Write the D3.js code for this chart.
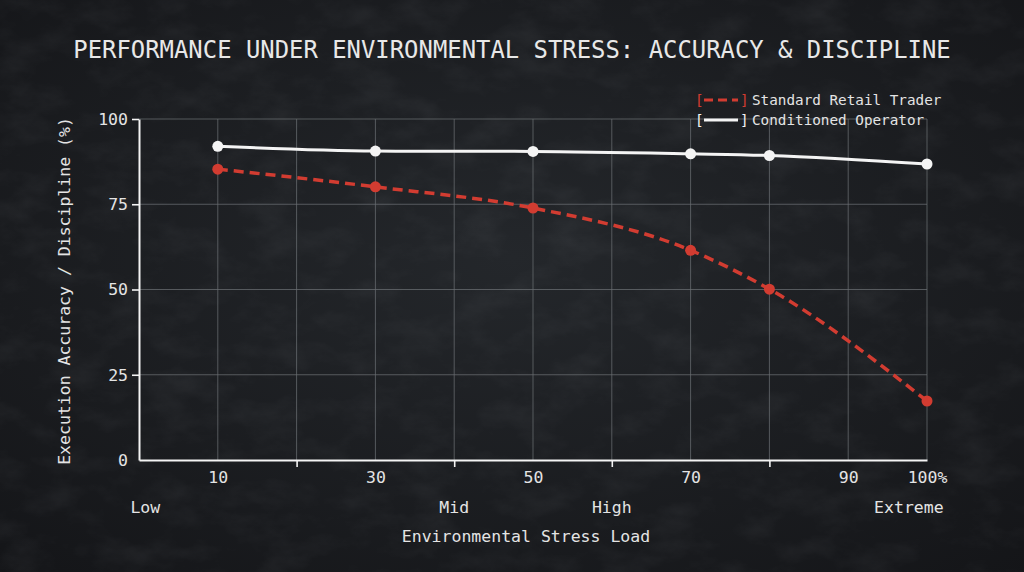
<!DOCTYPE html>
<html>
<head>
<meta charset="utf-8">
<script src="https://cdn.jsdelivr.net/npm/d3@7"></script>
<style>
  html, body { margin: 0; padding: 0; background: #1c1e22; }
  svg { display: block; }
</style>
</head>
<body>
<div id="chart"></div>
<script>
// Data
const stress = [10, 30, 50, 70, 80, 100];
const retailTrader = [85.3, 80.1, 73.9, 61.5, 50.1, 17.3];
const conditionedOperator = [92.0, 90.6, 90.5, 89.8, 89.3, 86.8];
const xLabelTicks = [10, 30, 50, 70, 90, 100];
const xMarkTicks = [20, 40, 60, 80];
const xGrid = [10, 20, 30, 40, 50, 60, 70, 80, 90, 100];
const yTicks = [0, 25, 50, 75, 100];
const zoneNames = ["Low", "Mid", "High", "Extreme"];
const zoneAt = [0.8, 40, 60, 97.7];

const width = 1024;
const height = 572;
const margin = { top: 119, right: 97, bottom: 112, left: 139 };
const font = "'DejaVu Sans Mono', 'Liberation Mono', monospace";
const red = "#d23c31";
const white = "#f4f4f4";
const textColor = "#e4e4e4";

const svg = d3.select("#chart")
    .append("svg")
    .attr("width", width)
    .attr("height", height);

// Background: dark slate with a little texture
const defs = svg.append("defs");
const vignette = defs.append("radialGradient").attr("id", "vig")
    .attr("cx", "50%").attr("cy", "45%").attr("r", "75%");
vignette.append("stop").attr("offset", "0%").attr("stop-color", "#24272b");
vignette.append("stop").attr("offset", "100%").attr("stop-color", "#141518");

const grain = defs.append("filter").attr("id", "grain")
    .attr("x", 0).attr("y", 0).attr("width", "100%").attr("height", "100%");
grain.append("feTurbulence").attr("type", "fractalNoise")
    .attr("baseFrequency", "0.02 0.035").attr("numOctaves", 5).attr("seed", 7);
grain.append("feColorMatrix").attr("type", "matrix")
    .attr("values", "0 0 0 0 0.45  0 0 0 0 0.47  0 0 0 0 0.5  1.4 0 0 0 -0.6");

svg.append("rect").attr("width", width).attr("height", height).attr("fill", "url(#vig)");
svg.append("rect").attr("width", width).attr("height", height)
    .attr("filter", "url(#grain)").attr("opacity", 0.1);

// Scales
const x = d3.scaleLinear()
    .domain([0, 100])
    .range([margin.left, width - margin.right]);

const y = d3.scaleLinear()
    .domain([0, 100])
    .range([height - margin.bottom, margin.top]);

// Gridlines
svg.append("g")
    .selectAll("line.vg")
    .data(xGrid)
    .join("line")
    .attr("x1", d => x(d)).attr("x2", d => x(d))
    .attr("y1", y(0)).attr("y2", y(100))
    .attr("stroke", "#6a6d72").attr("stroke-opacity", 0.75).attr("stroke-width", 1);

svg.append("g")
    .selectAll("line.hg")
    .data(yTicks.filter(d => d > 0))
    .join("line")
    .attr("x1", x(0)).attr("x2", x(100))
    .attr("y1", d => y(d)).attr("y2", d => y(d))
    .attr("stroke", "#6a6d72").attr("stroke-opacity", 0.75).attr("stroke-width", 1);

// Axes
const yAxis = svg.append("g")
    .attr("transform", `translate(${margin.left}, 0)`)
    .call(d3.axisLeft(y).tickValues(yTicks).tickSize(7).tickSizeOuter(0).tickPadding(4));

const xAxis = svg.append("g")
    .attr("transform", `translate(0, ${height - margin.bottom})`)
    .call(d3.axisBottom(x).tickValues(xMarkTicks).tickSize(7).tickSizeOuter(0).tickFormat(""));

const xLabels = svg.append("g")
    .attr("transform", `translate(0, ${height - margin.bottom})`)
    .call(d3.axisBottom(x).tickValues(xLabelTicks).tickSize(0).tickPadding(11)
        .tickFormat(d => d === 100 ? "100%" : d));
xLabels.select(".domain").remove();

[yAxis, xAxis].forEach(g => {
    g.select(".domain").attr("stroke", white).attr("stroke-width", 2);
    g.selectAll(".tick line").attr("stroke", white).attr("stroke-width", 1.6);
});
[yAxis, xLabels].forEach(g => {
    g.selectAll(".tick text")
        .attr("fill", textColor)
        .style("font-family", font)
        .style("font-size", "16.5px");
});
yAxis.selectAll(".tick").filter(d => d === 0).select("line").remove();

// Stress zone labels
svg.append("g")
    .selectAll("text")
    .data(zoneNames)
    .join("text")
    .attr("x", (d, i) => x(zoneAt[i]))
    .attr("y", 513)
    .attr("text-anchor", "middle")
    .attr("fill", textColor)
    .style("font-family", font)
    .style("font-size", "16.5px")
    .text(d => d);

// Axis titles
svg.append("text")
    .attr("x", 526)
    .attr("y", 542)
    .attr("text-anchor", "middle")
    .attr("fill", textColor)
    .style("font-family", font)
    .style("font-size", "16.5px")
    .text("Environmental Stress Load");

svg.append("text")
    .attr("transform", "rotate(-90)")
    .attr("x", -291)
    .attr("y", 70)
    .attr("text-anchor", "middle")
    .attr("fill", textColor)
    .style("font-family", font)
    .style("font-size", "16.5px")
    .text("Execution Accuracy / Discipline (%)");

// Title
svg.append("text")
    .attr("x", 512)
    .attr("y", 58)
    .attr("text-anchor", "middle")
    .attr("fill", "#e8e8e8")
    .style("font-family", font)
    .style("font-size", "23.9px")
    .text("PERFORMANCE UNDER ENVIRONMENTAL STRESS: ACCURACY & DISCIPLINE");

// Lines
const line = d3.line()
    .x((d, i) => x(stress[i]))
    .y(d => y(d))
    .curve(d3.curveMonotoneX);

svg.append("path")
    .datum(conditionedOperator)
    .attr("fill", "none")
    .attr("stroke", white)
    .attr("stroke-width", 3)
    .attr("d", line);

svg.append("path")
    .datum(retailTrader)
    .attr("fill", "none")
    .attr("stroke", red)
    .attr("stroke-width", 3.5)
    .attr("stroke-dasharray", "10 6")
    .attr("d", line);

svg.append("g")
    .selectAll("circle")
    .data(conditionedOperator)
    .join("circle")
    .attr("cx", (d, i) => x(stress[i]))
    .attr("cy", d => y(d))
    .attr("r", 5.5)
    .attr("fill", white);

svg.append("g")
    .selectAll("circle")
    .data(retailTrader)
    .join("circle")
    .attr("cx", (d, i) => x(stress[i]))
    .attr("cy", d => y(d))
    .attr("r", 5.5)
    .attr("fill", red);

// Legend
const legendItems = [
    { name: "Standard Retail Trader", color: red, dash: "9 5" },
    { name: "Conditioned Operator", color: white, dash: null }
];
const legend = svg.append("g").attr("transform", "translate(695, 100)");
legendItems.forEach((item, i) => {
    const row = legend.append("g").attr("transform", `translate(0, ${i * 20})`);
    row.append("text").attr("x", 0).attr("y", 5)
        .attr("fill", item.color)
        .style("font-family", font).style("font-size", "14.3px")
        .text("[");
    row.append("line")
        .attr("x1", 9).attr("x2", 43).attr("y1", 0).attr("y2", 0)
        .attr("stroke", item.color).attr("stroke-width", 3)
        .attr("stroke-dasharray", item.dash);
    row.append("text").attr("x", 45).attr("y", 5)
        .attr("fill", item.color)
        .style("font-family", font).style("font-size", "14.3px")
        .text("]");
    row.append("text").attr("x", 57).attr("y", 5)
        .attr("fill", textColor)
        .style("font-family", font).style("font-size", "14.3px")
        .text(item.name);
});
</script>
</body>
</html>
